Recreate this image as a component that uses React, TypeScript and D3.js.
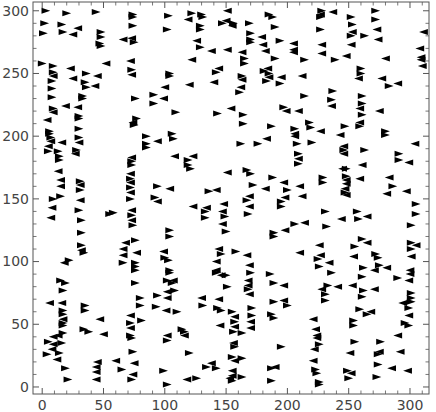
import React from "react";
import * as d3 from "d3";

const rightPoints: [number, number][] = [
  [3,300],[20,298],[44,299],[74,297],[74,295],[2,290],[16,289],[74,288],[1,282],[17,283],[48,283],[48,279],[75,275],[47,274],[48,272],[0,258],[9,256],[9,251],[36,250],[73,253],[8,244],[35,243],[36,239],[8,238],[33,232],[33,230],[8,231],[76,230],
  [103,296],[122,298],[130,297],[131,295],[185,297],[188,295],[147,290],[156,290],[169,290],[129,288],[129,285],[102,285],[190,287],[170,282],[170,277],[170,275],[194,276],[129,271],[165,262],[165,258],[190,262],[142,251],[181,252],[185,250],[183,244],[194,242],[104,250],[104,248],[163,248],[161,235],[91,233],[91,226],
  [228,300],[227,295],[252,295],[272,300],[272,293],[253,289],[227,285],[252,280],[263,280],[214,261],[239,261],[260,254],[260,250],[283,240],[237,236],[214,232],[261,232],[236,229],[261,226],
  [9,222],[30,216],[30,214],[77,214],[75,209],[30,206],[6,204],[6,202],[7,199],[85,200],[85,194],[85,191],[30,199],[28,189],[5,188],[13,188],[14,184],[14,181],[73,180],[73,177],[15,152],[9,150],[31,164],[31,157],[72,166],[72,159],[72,150],
  [109,219],[143,218],[164,217],[197,223],[164,210],[187,208],[106,202],[107,198],[162,194],[176,194],[119,181],[119,177],[121,174],[167,173],[170,170],[188,167],[94,160],[136,156],[172,161],[200,157],[92,151],[167,149],[195,148],
  [261,217],[218,211],[219,207],[247,208],[259,208],[280,204],[280,201],[206,206],[208,194],[220,195],[246,189],[263,189],[291,186],[209,186],[209,178],[291,181],[248,174],[229,167],[229,163],[248,168],[286,160],[247,155],[305,146],
  [30,141],[32,133],[55,138],[58,139],[73,137],[74,129],[32,123],[32,113],[34,107],[66,99],[76,117],[76,99],[76,96],[76,93],[22,101],[15,85],[19,83],[17,77],[76,83],[80,71],
  [133,140],[133,135],[149,136],[150,124],[168,138],[195,144],[189,123],[189,120],[104,125],[104,120],[100,103],[103,101],[104,93],[104,91],[102,85],[106,83],[146,106],[158,108],[142,91],[150,89],[170,91],[186,90],[189,83],[151,80],[168,78],[108,77],[94,73],[189,68],
  [231,140],[257,140],[258,134],[305,138],[206,130],[232,128],[301,129],[261,118],[255,112],[301,115],[301,110],[225,102],[272,106],[274,103],[226,96],[275,97],[262,95],[236,91],[261,88],[290,87],[233,81],[231,74],[262,77],[261,72],[301,75],[301,71],[231,69],[301,68],
  [35,65],[35,61],[80,65],[17,61],[17,58],[17,51],[17,49],[72,51],[81,53],[17,43],[34,46],[38,44],[72,41],[73,39],[5,36],[16,35],[4,26],[14,27],[74,28],[19,15],[65,14],[21,6],[73,6],
  [93,64],[110,60],[131,65],[143,63],[146,61],[155,60],[157,52],[156,44],[163,43],[171,63],[171,57],[200,65],[187,58],[189,55],[114,46],[116,44],[102,37],[157,32],[120,27],[195,32],[155,24],[163,23],[134,16],[142,15],[187,15],[99,13],[155,5],[163,8],[126,7],[187,5],[102,2],
  [299,63],[259,62],[265,58],[254,53],[296,51],[299,49],[254,49],[226,34],[255,36],[276,36],[274,26],[274,18],[223,14],[224,11],[249,13],[250,7],[273,8],[226,4],[226,2]
];

const leftPoints: [number, number][] = [
  [29,286],[25,281],[66,277],[73,278],[23,254],[52,258],[72,260],[9,248],[45,248],[73,249],[25,246],[43,240],
  [119,293],[151,300],[150,292],[155,288],[179,279],[126,276],[180,273],[138,268],[151,269],[163,267],[182,268],[122,261],[144,254],[184,254],[185,247],[195,247],[163,245],[140,243],[120,241],[100,239],[162,239],[99,230],
  [237,299],[227,297],[273,285],[253,283],[274,277],[311,283],[205,274],[205,269],[205,267],[228,273],[252,273],[228,266],[308,270],[309,263],[309,261],[310,256],[248,264],[280,262],[258,246],[212,248],[277,246],[290,242],
  [19,224],[9,219],[29,223],[4,213],[74,211],[7,196],[16,195],[30,195],[5,192],[27,186],[73,183],[13,172],[15,165],[15,160],[31,161],[31,149],[72,170],[72,163],[72,155],
  [154,222],[199,220],[94,196],[183,198],[108,184],[123,184],[151,171],[197,163],[104,158],[142,157],[182,158],[94,148],[169,152],[198,151],
  [236,224],[259,222],[209,220],[275,220],[227,204],[243,201],[259,211],[206,202],[206,200],[304,194],[246,192],[246,186],[209,182],[299,179],[261,177],[245,174],[283,167],[259,166],[248,165],[248,162],[297,156],[210,160],[281,154],[247,158],[248,153],[212,152],
  [8,143],[7,135],[73,141],[73,133],[32,109],[68,115],[66,110],[66,105],[77,107],[18,99],[6,67],[16,67],
  [123,144],[134,143],[148,146],[147,140],[147,130],[169,144],[198,125],[99,108],[107,85],[144,110],[167,105],[142,100],[169,97],[142,93],[146,89],[197,81],[168,85],[168,81],[169,74],[102,76],[102,71],[130,71],[144,70],[197,69],
  [265,136],[244,134],[214,131],[265,115],[226,113],[305,113],[210,107],[227,105],[254,104],[301,104],[234,99],[281,95],[271,93],[300,93],[300,90],[299,85],[253,81],[241,80],[228,78],[271,78],[294,67],
  [17,54],[47,54],[72,57],[72,47],[13,41],[9,40],[50,42],[9,34],[8,30],[12,22],[60,21],[45,20],[75,19],[44,16],[44,12],[74,10],[44,6],
  [101,61],[157,56],[145,49],[157,48],[170,52],[170,47],[116,41],[102,41],[156,35],[157,21],[138,19],[155,13],[190,16],[155,9],[153,7],[118,6],
  [268,60],[221,54],[299,57],[223,46],[224,41],[224,39],[290,41],[222,30],[292,28],[251,27],[275,28],[221,21],[285,15],[298,13],[252,11]
];

const majorTicks = [0, 50, 100, 150, 200, 250, 300];
const minorTicks = d3.range(0, 320, 10).filter((v) => v % 50 !== 0);

const W = 436;
const H = 412;
const xDomain: [number, number] = [-7.5, 315.5];
const yDomain: [number, number] = [-5.6, 307];

export default function App() {
  const x = d3.scaleLinear().domain(xDomain).range([33, 429]);
  const y = d3.scaleLinear().domain(yDomain).range([394, 2]);
  const [x0, x1] = x.range();
  const [y0, y1] = y.range();
  const hw = 4.4, hh = 3;
  const rightPath = `M${-hw},${-hh}L${hw},0L${-hw},${hh}Z`;
  const leftPath = `M${hw},${-hh}L${-hw},0L${hw},${hh}Z`;
  const frameColor = "#555";
  const major = 6, minor = 3.5;
  return (
    <svg width={W} height={H} style={{ position: "absolute", left: 0, top: 0, background: "#fff" }}
      fontFamily="'DejaVu Sans', sans-serif">
      <rect x={x0} y={y1} width={x1 - x0} height={y0 - y1} fill="none" stroke={frameColor} strokeWidth={1} />
      {majorTicks.map((t) => (
        <g key={"mx" + t} stroke={frameColor} strokeWidth={1}>
          <line x1={x(t)} x2={x(t)} y1={y0} y2={y0 - major} />
          <line x1={x(t)} x2={x(t)} y1={y1} y2={y1 + major} />
          <line y1={y(t)} y2={y(t)} x1={x0} x2={x0 + major} />
          <line y1={y(t)} y2={y(t)} x1={x1} x2={x1 - major} />
        </g>
      ))}
      {minorTicks.map((t) => (
        <g key={"mn" + t} stroke={frameColor} strokeWidth={0.8}>
          <line x1={x(t)} x2={x(t)} y1={y0} y2={y0 - minor} />
          <line x1={x(t)} x2={x(t)} y1={y1} y2={y1 + minor} />
          {t < yDomain[1] && <line y1={y(t)} y2={y(t)} x1={x0} x2={x0 + minor} />}
          {t < yDomain[1] && <line y1={y(t)} y2={y(t)} x1={x1} x2={x1 - minor} />}
        </g>
      ))}
      {majorTicks.map((t) => (
        <text key={"lx" + t} x={x(t)} y={H - 2} textAnchor="middle" fontSize={14} fill="#444">{t}</text>
      ))}
      {majorTicks.map((t) => (
        <text key={"ly" + t} x={x0 - 4} y={y(t)} dy="0.35em" textAnchor="end" fontSize={14} fill="#444">{t}</text>
      ))}
      <g fill="#000">
        {rightPoints.map((p, i) => (
          <path key={"r" + i} d={rightPath} transform={`translate(${x(p[0])},${y(p[1])})`} />
        ))}
        {leftPoints.map((p, i) => (
          <path key={"l" + i} d={leftPath} transform={`translate(${x(p[0])},${y(p[1])})`} />
        ))}
      </g>
    </svg>
  );
}
